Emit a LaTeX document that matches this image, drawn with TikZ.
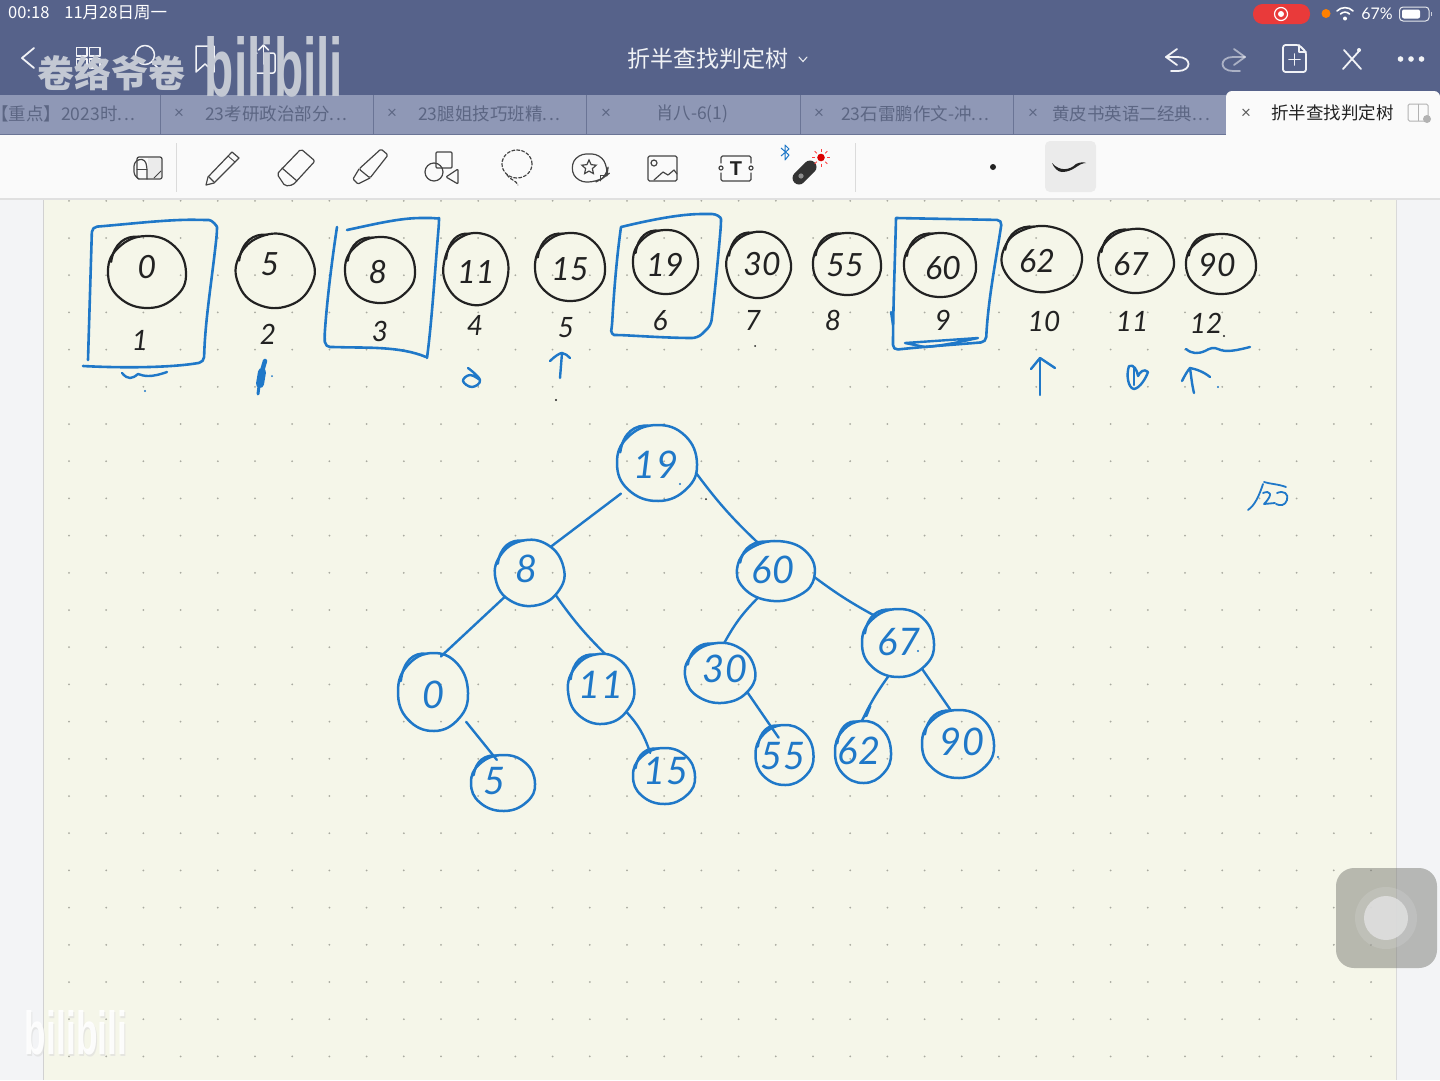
\documentclass[tikz,border=0pt]{standalone}
\usepackage{fontspec}
\usepackage{graphicx}
\usetikzlibrary{shapes.geometric,shapes.misc}
\setmainfont{Liberation Sans}
\newfontfamily\cjk{Noto Sans CJK SC}
\newfontfamily\hand{Lato}
\definecolor{barc}{HTML}{56628A}
\definecolor{tabc}{HTML}{8F98B6}
\definecolor{tabt}{HTML}{5C6683}
\definecolor{tabl}{HTML}{6A7495}
\definecolor{paperc}{HTML}{F5F6E9}
\definecolor{outc}{HTML}{F3F4F6}
\definecolor{dotc}{HTML}{A9AAA0}
\definecolor{inkb}{HTML}{1F78C8}
\definecolor{inkk}{HTML}{222222}
\definecolor{icon}{HTML}{444444}
\definecolor{wm}{HTML}{C3C8D3}
\definecolor{pill}{HTML}{E93A3A}
\tikzset{
 x=1pt,y=-1pt,
 blackring/.style={draw=inkk,line width=2.2pt,line cap=round,line join=round},
 bluering/.style={draw=inkb,line width=2.5pt,line cap=round,line join=round},
 blackdig/.style={text=inkk,font=\hand\itshape\fontsize{32}{34}\selectfont,inner sep=0pt},
 bluedig/.style={text=inkb,font=\hand\itshape\fontsize{38}{40}\selectfont,inner sep=0pt},
 idx/.style={text=inkk,font=\hand\itshape\fontsize{28}{30}\selectfont,inner sep=0pt},
 tabtxt/.style={anchor=west,text=tabt,font=\cjk\fontsize{17.5}{20}\selectfont,inner sep=0pt},
 tabx/.style={text=tabt,font=\hand\fontsize{17}{18}\selectfont,inner sep=0pt},
 ink/.style={line width=2.4pt,draw=inkb,line cap=round,line join=round},
 edge/.style={ink},
 boxk/.style={line width=2.6pt,draw=inkb,line cap=round,line join=round,rounded corners=5pt},
 ic/.style={draw=icon,line width=1.2pt,line join=round,line cap=round},
 ict/.style={draw=white!92!barc,line width=1.8pt,line join=round,line cap=round},
}
\newcommand\tdots{.\hspace{1.6pt}.\hspace{1.6pt}.}
% [rot] name cx cy rx ry ringstyle/digitstyle-prefix tx ty text
\newcommand\hblob[9][0]{%
 \node[ellipse,minimum width=2*#4pt,minimum height=2*#5pt,inner sep=0pt] (#2) at (#3) {};
 \begin{scope}[shift={(#3)},xscale=#4,yscale=#5]
 \draw[#6ring,rotate=#1] plot[smooth cycle,tension=.75] coordinates {(1,0.02) (.74,.68) (.03,1) (-.72,.7) (-1,0) (-.73,-.68) (-.02,-1) (.7,-.72)};
 \draw[#6ring] (-.92,-.28) .. controls (-.85,-.8) and (-.55,-1.02) .. (-.2,-.98);
 \end{scope}
 \node[#6dig] (#2t) at (#7,#8) {#9};
}
\begin{document}
\begin{tikzpicture}
\useasboundingbox (0,0) rectangle (1440,1080);
\fill[outc] (0,0) rectangle (1440,1080);
\fill[paperc] (43,195) rectangle (1396,1080);
\draw[black!18,line width=1pt] (43,195) -- (43,1080);
\draw[black!15,line width=1pt] (1396,195) -- (1396,1080);
% dots
\foreach \j in {-1,...,22}{\foreach \k in {0,...,35}{
 \fill[dotc] ({69+37.2*\k},{238+37.2*\j}) circle (1pt);}}
% top bar
\fill[barc] (0,0) rectangle (1440,95);
\fill[tabc] (0,95) rectangle (1440,134);
\fill[white!98!black] (0,134) rectangle (1440,198);
\fill[black!12] (0,197.5) rectangle (1440,199.5);
\foreach \x in {160,373.5,586.5,800,1013}{\draw[tabl,line width=1pt] (\x,95) -- (\x,134);}
\draw[tabl,line width=.8pt] (0,134) -- (1226,134);
\fill[white!98!black,rounded corners=6pt] (1226,140) -- (1226,91) -- (1440,91) -- (1440,140) -- cycle;
% status bar
\node[anchor=west,text=white,font=\cjk\fontsize{16.5}{18}\selectfont,inner sep=0pt] (clock) at (8,13) {00:18\hspace{15pt}11月28日周一};
\fill[pill,rounded corners=9.5pt] (1253,4) rectangle (1310,24);
\draw[white,line width=1.2pt] (1281,14) circle (6.5pt);
\fill[white] (1281,14) circle (3pt);
\fill[orange] (1326,13.5) circle (4.5pt);
\draw[white,line width=1.6pt,line cap=round] (1337,11) .. controls (1341,6.5) and (1349,6.5) .. (1353,11);
\draw[white,line width=1.6pt,line cap=round] (1340.5,14) .. controls (1343,11.5) and (1347,11.5) .. (1349.5,14);
\fill[white] (1345,18.5) circle (2pt);
\node[text=white,font=\hand\fontsize{16}{18}\selectfont,inner sep=0pt] (pct) at (1377,14) {67\%};
\draw[white!85!barc,line width=1pt,rounded corners=3.5pt] (1399.5,7) rectangle (1429,21);
\fill[white,rounded corners=2pt] (1402,9.5) rectangle (1420,18.5);
\fill[white!70!barc] (1430.5,12) rectangle (1432,16);
% title
\node[text=white!92!barc,font=\cjk\fontsize{23}{25}\selectfont,inner sep=0pt] (title) at (708,59) {折半查找判定树};
\draw[white!85!barc,line width=1.1pt,line cap=round] (799,57) -- (803,61.5) -- (807,57);
% left nav icons
\draw[ict] (34,48) -- (22,58) -- (34,68);
\draw[ict,line width=1.5pt] (76.5,47.5) rectangle (87,56);
\draw[ict,line width=1.5pt] (89.5,47.5) rectangle (100,56);
\draw[ict,line width=1.5pt] (76.5,59) rectangle (87,68);
\draw[ict,line width=1.5pt] (89.5,59) rectangle (100,68);
\draw[ict,line width=1.5pt] (145,55) circle (9.5pt);
\draw[ict,line width=1.5pt] (152,62) -- (158,68);
\draw[ict,line width=1.5pt] (196,72) -- (196,46) -- (214,46) -- (214,72) -- (205,64) -- cycle;
\draw[ict,line width=1.5pt,rounded corners=2pt] (257,53) -- (253,53) -- (253,73) -- (275,73) -- (275,53) -- (270,53);
\draw[ict,line width=1.5pt] (263.5,64) -- (263.5,46);
\draw[ict,line width=1.5pt] (258.5,50) -- (263.5,45) -- (268.5,50);
% watermark
\node[text=wm,font=\cjk\bfseries\fontsize{37}{39}\selectfont,inner sep=0pt] (wma) at (111,73) {卷络爷卷};
\node[text=wm,inner sep=0pt] (wmb) at (274,67) {\resizebox{138pt}{60pt}{\textbf{bilibili}}};
% right nav icons
\draw[ict] (1177,49) -- (1166,57) -- (1177,65);
\draw[ict] (1166,57) -- (1178,57) .. controls (1192,57) and (1192,71) .. (1178,71) -- (1171,71);
\begin{scope}[draw opacity=.55]
\draw[ict] (1234,49) -- (1245,57) -- (1234,65);
\draw[ict] (1245,57) -- (1233,57) .. controls (1219,57) and (1219,71) .. (1233,71) -- (1240,71);
\end{scope}
\draw[ict,rounded corners=2.5pt] (1299,45) -- (1283,45) -- (1283,72) -- (1306,72) -- (1306,52) -- cycle;
\draw[ict] (1299,45) -- (1299,52) -- (1306,52);
\draw[ict] (1294.5,54) -- (1294.5,65);
\draw[ict] (1289,59.5) -- (1300,59.5);
\draw[ict] (1343,69) -- (1360,50);
\draw[ict] (1344,50) -- (1361,69);
\fill[white!92!barc] (1359,50) circle (2pt);
\foreach \x in {1400.5,1411,1421.5}{\fill[white!92!barc] (\x,59) circle (2.8pt);}
% tabs
\node[tabtxt] (t1) at (-9,114) {【重点】2023时\tdots};
\node[tabx] (x2) at (179,114) {×};
\node[tabtxt] (t2) at (205,114) {23考研政治部分\tdots};
\node[tabx] (x3) at (392,114) {×};
\node[tabtxt] (t3) at (418,114) {23腿姐技巧班精\tdots};
\node[tabx] (x4) at (606,114) {×};
\node[tabtxt] (t4) at (656,114) {肖八-6(1)};
\node[tabx] (x5) at (819,114) {×};
\node[tabtxt] (t5) at (841,114) {23石雷鹏作文-冲\tdots};
\node[tabx] (x6) at (1033,114) {×};
\node[tabtxt] (t6) at (1052,114) {黄皮书英语二经典\tdots};
\node[tabx,text=black!65] (x7) at (1246,114) {×};
\node[tabtxt,text=inkk] (t7) at (1271,113) {折半查找判定树};
\draw[black!30,line width=1pt,rounded corners=1.5pt] (1408,104) rectangle (1428,121);
\draw[black!30,line width=1pt] (1418,104) -- (1418,121);
\fill[black!30] (1427,119) circle (4pt);
% toolbar
\draw[black!14,line width=.8pt] (176,143) -- (176,192);
\draw[black!14,line width=.8pt] (855,143) -- (855,192);
% note icon
\draw[ic,rounded corners=2pt] (137,157) rectangle (162,179);
\fill[black!8] (148,158) rectangle (161,178);
\draw[ic,rounded corners=3pt] (139,179) -- (134,175) -- (134,163) -- (139,159) -- (145,160) -- (147,167) -- (147,179);
\draw[ic,line width=.9pt] (154,178) -- (161,171);
\draw[ic,line width=.9pt] (137,169) -- (147,169);
% pencil
\draw[ic] (206,185) -- (208,177) -- (232,152) -- (239,158) -- (214,183) -- cycle;
\draw[ic] (209,177) -- (214,182);
\draw[ic,line width=.9pt] (228,156) -- (235,162);
% eraser
\draw[ic,rounded corners=2pt] (301,149) -- (315,161) -- (293,185) -- (285,186) -- (277,174) -- cycle;
\draw[ic] (282,168) -- (297,181);
% marker
\draw[ic,rounded corners=1.5pt] (381,149) -- (388,155) -- (370,178) -- (359,169) -- cycle;
\draw[ic,rounded corners=1pt] (359,169) -- (353,179) -- (358,184) -- (370,178);
% shapes
\draw[ic,rounded corners=1pt] (436,152) rectangle (452,168);
\draw[ic] (434,172) circle (9pt);
\draw[ic,rounded corners=1pt] (458,169) -- (458,184) -- (446,177) -- cycle;
% lasso
\draw[ic,dash pattern=on 3pt off 2pt] (517,164) ellipse (15pt and 14pt);
\draw[ic,dash pattern=on 3pt off 2pt] (507,175) .. controls (510,180) and (516,180) .. (518,185);
% sticker
\draw[ic,rounded corners=8pt] (603,178) -- (596,182) -- (578,182) -- (570,168) -- (578,154) -- (600,154) -- (608,168) -- (607,175) -- cycle;
\node[star,star points=5,star point ratio=2.1,draw=icon,line width=1.2pt,minimum size=15pt,inner sep=0pt] (starn) at (589,167.5) {};
\draw[ic,line width=.9pt] (600,181) -- (600,175) -- (607,175);
% image
\draw[ic,rounded corners=1.5pt] (648,156) rectangle (677,181);
\draw[ic] (654,163) circle (3pt);
\draw[ic] (654,180) -- (663,172) -- (668,175) -- (674,170) -- (677,174);
% text box
\draw[ic,rounded corners=1.5pt] (721,163) -- (721,156) -- (751,156) -- (751,163);
\draw[ic,rounded corners=1.5pt] (721,173) -- (721,181) -- (751,181) -- (751,173);
\draw[ic] (721,168) circle (2pt);
\draw[ic] (751,168) circle (2pt);
\node[text=inkk,font=\bfseries\fontsize{20}{22}\selectfont,inner sep=0pt] (tt) at (736,169) {T};
% pen
\draw[inkb,line width=1pt,line join=round] (781,148) -- (789,155) -- (785,160) -- (785,145) -- (789,149) -- (781,156);
\draw[black!80,line width=13pt,line cap=round] (799,178) -- (810,167);
\fill[black!45] (801,176) circle (2.6pt);
\fill[red!85!black] (821,157.5) circle (3.8pt);
\foreach \a in {0,45,...,315}{\draw[red!75,line width=.8pt] ({821+6*cos(\a)},{157.5+6*sin(\a)}) -- ({821+9*cos(\a)},{157.5+9*sin(\a)});}
\fill[inkk] (993,167) circle (3pt);
\fill[black!8,rounded corners=5pt] (1045,141) rectangle (1096,192);
\fill[inkk] (1052,163) .. controls (1060,172) and (1070,170) .. (1076,164) .. controls (1080,162) and (1084,162) .. (1086,163) .. controls (1078,163) and (1074,172) .. (1062,172) .. controls (1058,172) and (1054,168) .. (1052,163);

% top row of circles
\hblob{a1}{147,272}{39}{36}{black}{147}{267}{0}
\hblob[20]{a2}{275,271}{39}{37}{black}{270}{264}{5}
\hblob{a3}{380,270}{35}{33}{black}{378}{272}{8}
\hblob[-15]{a4}{476,269}{32.5}{36}{black}{476}{272}{11}
\hblob{a5}{570,267}{35}{34}{black}{570}{269}{15}
\hblob{a6}{665.5,262}{32.5}{32}{black}{665}{265}{19}
\hblob[15]{a7}{758.5,265}{32}{33}{black}{762}{264}{30}
\hblob{a8}{847,264}{34}{31}{black}{845}{265}{55}
\hblob{a9}{940,265}{36}{32}{black}{943}{268}{60}
\hblob[-20]{a10}{1042,259}{40}{33}{black}{1037}{261}{62}
\hblob[10]{a11}{1136,261}{37.5}{32}{black}{1131}{264}{67}
\hblob{a12}{1221,264}{35}{30}{black}{1217}{265}{90}
% indices
\node[idx] (i1) at (140,340) {1};
\node[idx] (i2) at (268,334) {2};
\node[idx] (i3) at (380,331) {3};
\node[idx] (i4) at (475,325) {4};
\node[idx] (i5) at (566,328) {5};
\node[idx] (i6) at (660,321) {6};
\node[idx] (i7) at (753,320) {7};
\node[idx] (i8) at (833,320) {8};
\node[idx] (i9) at (943,320) {9};
\node[idx] (i10) at (1044,321) {10};
\node[idx] (i11) at (1132,321) {11};
\node[idx] (i12) at (1206,323) {12};
\fill[inkk] (1224,336) circle (1.2pt);
\fill[inkk] (556,400) circle (1.2pt);
\fill[inkk] (755,346) circle (1pt);
% boxes
\draw[boxk] (88,360) -- (92,227) .. controls (130,224) and (170,219) .. (204,220) .. controls (212,220) and (217,226) .. (217,232) .. controls (212,280) and (205,320) .. (204,362) .. controls (170,368) and (120,368) .. (83,366);
\draw[ink] (122,373) .. controls (128,380) and (132,379) .. (138,374) .. controls (144,376) and (150,378) .. (167,372);
\fill[inkb] (145,391) circle (1.2pt);
\draw[boxk] (337,227) .. controls (332,260) and (327,300) .. (324.5,337) .. controls (325,345) and (328,347) .. (335,347) .. controls (365,348) and (400,346) .. (426,357);
\draw[boxk] (347,230) .. controls (375,224) and (400,218) .. (426,218) .. controls (434,218) and (439,219) .. (439,223) .. controls (435,270) and (432,320) .. (427,358);
\draw[boxk] (621,227) .. controls (650,220) and (680,214) .. (707,214) .. controls (716,214) and (721,217) .. (721,224) .. controls (718,260) and (714,300) .. (711,325) .. controls (706,330) and (702,334) .. (697,338) .. controls (670,338) and (640,336) .. (619,335) .. controls (613,335) and (611,332) .. (612,326) .. controls (614,290) and (617,255) .. (621,227);
\draw[boxk] (896,218) -- (1002,220) .. controls (996,260) and (988,300) .. (986,342) .. controls (950,345) and (920,347) .. (893,350) .. controls (893,310) and (895,260) .. (896,218);
\draw[ink] (905,343) -- (978,338) .. controls (960,342) and (940,346) .. (925,347) -- (905,343);
\draw[ink] (891,312) -- (893,325);
% marks under the indices
\draw[ink,line width=4.5pt] (265,361) -- (260,378);
\draw[ink,line width=3pt] (260,378) -- (258,394);
\draw[ink,line width=8pt,line cap=round] (262,372) -- (260,384);
\fill[inkb] (272,376) circle (1pt);
\draw[ink] plot[smooth,tension=.7] coordinates {(468,368) (480,380) (472,387) (463,381) (470,375) (480,380)};
\draw[ink] (560,378) -- (562,353);
\draw[ink] (550,361) .. controls (555,356) and (560,353) .. (562,353) .. controls (565,354) and (568,355) .. (570,358);
\draw[ink] (1040,395) .. controls (1040,380) and (1040,370) .. (1040,358);
\draw[ink] (1031,369) -- (1040,358) -- (1055,368);
\draw[ink] (1129,366) .. controls (1126,375) and (1128,388) .. (1134,389) .. controls (1140,388) and (1146,378) .. (1148,372) .. controls (1144,368) and (1140,372) .. (1138,376) .. controls (1137,370) and (1134,364) .. (1129,366);
\draw[ink] (1134,368) -- (1134,385);
\draw[ink] (1186,349) .. controls (1192,354) and (1198,354) .. (1205,351) .. controls (1210,348) and (1214,347) .. (1218,349) .. controls (1226,353) and (1238,350) .. (1250,347);
\draw[ink] (1194,393) .. controls (1192,385) and (1191,375) .. (1190,368);
\draw[ink] (1182,381) .. controls (1185,375) and (1188,370) .. (1190,368) .. controls (1196,369) and (1204,372) .. (1210,377);
\fill[inkb] (1218,387) circle (1.2pt);
% scribble at the right
\draw[ink,line width=1.8pt] (1248,510) .. controls (1255,505) and (1259,496) .. (1263,484);
\draw[ink,line width=1.8pt] (1264,482) .. controls (1270,484) and (1278,484) .. (1286,487);
\draw[ink,line width=1.8pt] (1263,493) .. controls (1270,490) and (1274,494) .. (1264,504) -- (1275,503);
\draw[ink,line width=1.8pt] (1277,493) .. controls (1284,490) and (1289,494) .. (1287,500) .. controls (1285,506) and (1280,506) .. (1276,504);

% tree
\hblob{n19}{657,463}{40}{38}{blue}{656}{465}{19}
\hblob[12]{n8}{529.5,573}{34.5}{33}{blue}{527}{569}{8}
\hblob[-10]{n60}{776,571}{39}{30}{blue}{773}{570}{60}
\hblob{n0}{433,692}{35}{39}{blue}{434}{695}{0}
\hblob[8]{n11}{601,689}{33}{35}{blue}{601}{685}{11}
\hblob[10]{n30}{720,673}{35}{30}{blue}{725}{669}{30}
\hblob{n67}{898,643}{36}{34}{blue}{899}{642}{67}
\hblob{n5}{503,783}{32}{28}{blue}{495}{781}{5}
\hblob{n15}{664,776}{31}{28}{blue}{666}{771}{15}
\hblob{n55}{784.5,755}{29}{30}{blue}{783}{756}{55}
\hblob{n62}{863,752}{28}{31}{blue}{859}{751}{62}
\hblob{n90}{958,744}{36}{34}{blue}{962}{742}{90}
\fill[inkb] (680,484) circle (1.2pt);
\fill[inkb] (918,651) circle (1.2pt);
\fill[inkb] (998,757) circle (1.2pt);
\fill[inkk] (706,499) circle (1pt);
% edges
\draw[edge,shorten <=8pt] (n19.221) -- (n8.51);
\draw[edge] (n19.346) to[bend right=5] (n60.122);
\draw[edge,shorten >=-3pt] (n8.224) -- (n0.75);
\draw[edge] (n8.320) to[bend right=5] (n11.83);
\draw[edge] (n60.236) to[bend right=8] (n30.82);
\draw[edge] (n60.351) to[bend right=4] (n67.130);
\draw[edge,shorten <=8pt,shorten >=-5pt] (n0.320) -- (n5.109);
\draw[edge,shorten >=-2pt] (n11.318) to[bend left=12] (n15.120);
\draw[edge,shorten >=-12pt] (n30.325) -- (n55.115);
\draw[edge] (n67.254) to[bend right=5] (n62.92);
\draw[edge] (n67.313) -- (n90.102);
\draw[ink,line width=3pt] (870,706) -- (866,716);
% floating button
\fill[black!50!paperc,opacity=.5,rounded corners=18pt] (1336,868) rectangle (1437,968);
\fill[white!85!black,opacity=.25] (1386,918) circle (31pt);
\fill[white!88!black,opacity=.85] (1386,918) circle (22pt);
% lower watermark
\node[text=black!14,opacity=.6,inner sep=0pt] (wmd) at (77,1034.5) {\resizebox{102pt}{44pt}{\textbf{bilibili}}};
\node[text=white,opacity=.9,inner sep=0pt] (wmc) at (76,1033) {\resizebox{102pt}{44pt}{\textbf{bilibili}}};
\end{tikzpicture}
\end{document}
